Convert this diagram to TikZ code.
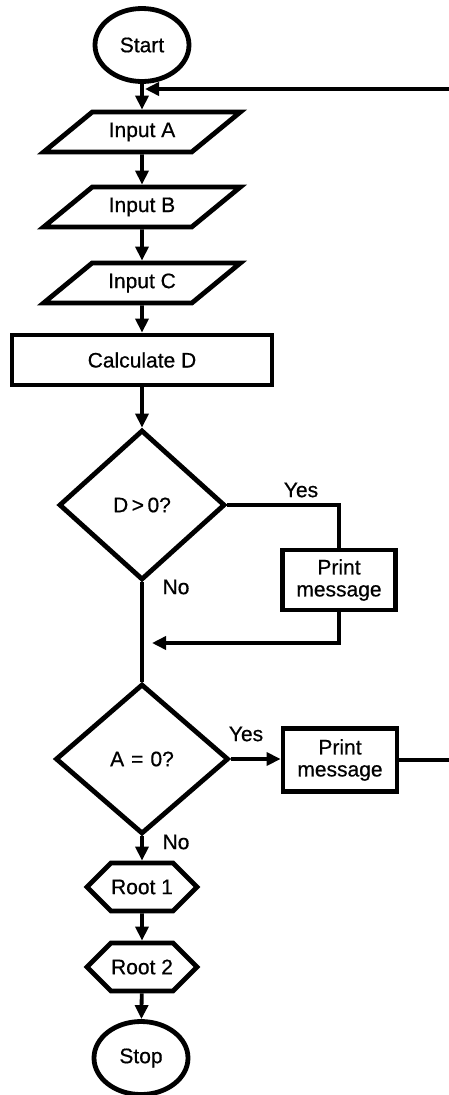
\documentclass[tikz,border=0pt]{standalone}
\usepackage{fontspec}
\setmainfont[FakeBold=0.6]{Liberation Sans}
\usetikzlibrary{shapes.geometric,shapes.symbols,arrows.meta}
\begin{document}
\begin{tikzpicture}[x=1pt,y=-1pt,
  shapeline/.style={line width=4.8pt},
  conn/.style={line width=3.8pt},
  arr/.style={conn,-{Triangle[length=14pt,width=13pt]}},
  every node/.style={font=\fontsize{21}{22}\selectfont, inner sep=0pt, align=center},
  term/.style={draw,shapeline,ellipse,minimum width=94pt,minimum height=73pt},
  io/.style={draw,shapeline,trapezium,trapezium left angle=30,trapezium right angle=150,trapezium stretches=true,minimum width=197pt,minimum height=40pt},
  proc/.style={draw,shapeline,rectangle},
  decision/.style={draw,shapeline,diamond,minimum width=170pt,minimum height=150pt},
  outbox/.style={draw,shapeline,signal,signal to=east and west,signal from=nowhere,signal pointer angle=90,minimum width=99pt,minimum height=48pt}
]
\useasboundingbox (0,0) rectangle (449,1095);
% nodes
\node[term] (start) at (142,45) {Start};
\node[io] (inA) at (142,132) {Input A};
\node[io] (inB) at (142,207) {Input B};
\node[io] (inC) at (142,283) {Input C};
\node[proc,minimum width=260pt,minimum height=50pt] (calc) at (142,360) {Calculate D};
\node[decision,minimum width=166pt] (d1) at (142,505) {D\,>\,0?};
\node[proc,minimum width=113pt,minimum height=60pt] (p1) at (339,580) {Print\\message};
\node[decision,minimum width=173pt] (d2) at (142,759) {A\,\,=\,\,0?};
\node[proc,minimum width=114pt,minimum height=63pt] (p2) at (340,760) {Print\\message};
\node[outbox] (r1) at (142,887) {Root 1};
\node[outbox] (r2) at (142,967) {Root 2};
\node[term] (stop) at (141,1058) {Stop};
% labels
\node (yes1) at (301,490) {Yes};
\node (no1) at (176,587) {No};
\node (yes2) at (246,734) {Yes};
\node (no2) at (176,842) {No};
% coordinates
\coordinate (loopin) at (449,89);
\coordinate (j1) at (145,89);
\coordinate (j2) at (152,643);
\coordinate (loopout) at (449,760);
% connectors
\draw[arr] (start) -- (inA);
\draw[arr] (loopin) -- (j1);
\draw[arr] (inA) -- (inB);
\draw[arr] (inB) -- (inC);
\draw[arr] (inC) -- (calc);
\draw[arr] (calc) -- (d1);
\draw[conn] (d1.east) -| (p1.north);
\draw[arr] (p1.south) |- (j2);
\draw[conn] (d1.south) -- (d2.north);
\draw[arr] (d2.east) -- (d2.east -| p2.west);
\draw[conn] (p2.east) -- (loopout);
\draw[arr] (d2.south) -- (r1.north);
\draw[arr] (r1) -- (r2);
\draw[arr] (r2) -- (stop);
\end{tikzpicture}
\end{document}
